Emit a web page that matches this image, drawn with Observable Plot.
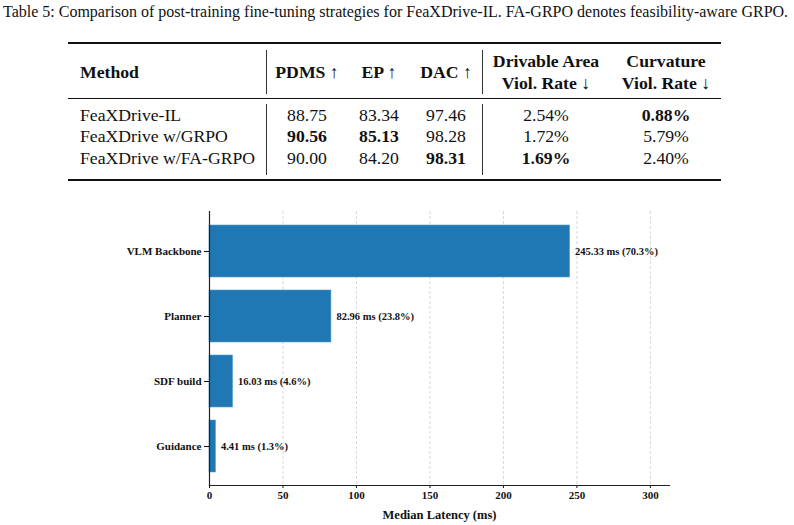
<!DOCTYPE html>
<html>
<head>
<meta charset="utf-8">
<script src="https://cdn.jsdelivr.net/npm/d3@7"></script>
<script src="https://cdn.jsdelivr.net/npm/@observablehq/plot@0.6"></script>
<style>
  html, body { margin: 0; padding: 0; background: #fff; }
  #page { position: relative; width: 794px; height: 525px; overflow: hidden; font-family: "Liberation Serif", "Times New Roman", serif; color: #111; }
  .abs { position: absolute; white-space: nowrap; }
  .cap { font-size: 16px; line-height: 18px; }
  .cell { font-size: 17.7px; line-height: 20px; }
  .hdr { font-size: 17.7px; line-height: 22px; font-weight: bold; text-align: center; }
  .rule { position: absolute; background: #111; }
  .vline { position: absolute; background: #333; width: 1px; }
  #chart { position: absolute; left: 0; top: 195px; }
</style>
</head>
<body>
<div id="page"></div>
<script>
// ---------- Table data ----------
const captionText = "Table 5: Comparison of post-training fine-tuning strategies for FeaXDrive-IL. FA-GRPO denotes feasibility-aware GRPO.";
const methods = ["FeaXDrive-IL", "FeaXDrive w/GRPO", "FeaXDrive w/FA-GRPO"];
const pdms = [88.75, 90.56, 90.00];
const ep = [83.34, 85.13, 84.20];
const dac = [97.46, 98.28, 98.31];
const drivableViol = [2.54, 1.72, 1.69];
const curvatureViol = [0.88, 5.79, 2.40];
const columnHeaders = [["PDMS ↑"], ["EP ↑"], ["DAC ↑"], ["Drivable Area", "Viol. Rate ↓"], ["Curvature", "Viol. Rate ↓"]];

// ---------- Chart data ----------
const components = ["VLM Backbone", "Planner", "SDF build", "Guidance"];
const latencyMs = [245.33, 82.96, 16.03, 4.41];
const sharePct = [70.3, 23.8, 4.6, 1.3];
const xTicks = [0, 50, 100, 150, 200, 250, 300];

const page = document.getElementById("page");
function el(cls, text, style) {
  const d = document.createElement("div");
  d.className = cls;
  if (text != null) d.textContent = text;
  Object.assign(d.style, style);
  page.appendChild(d);
  return d;
}

// caption
el("abs cap", captionText, {left: "3px", top: "3px"});

// rules
el("rule", null, {left: "68px", width: "653px", top: "42px", height: "2px"});
el("rule", null, {left: "68px", width: "653px", top: "97.5px", height: "1.2px"});
el("rule", null, {left: "68px", width: "653px", top: "178.5px", height: "2px"});
// vertical separators
for (const x of [266, 482]) {
  el("vline", null, {left: x + "px", top: "50px", height: "44px"});
  el("vline", null, {left: x + "px", top: "104px", height: "71px"});
}

// header
el("abs hdr", "Method", {left: "80px", top: "61px", textAlign: "left"});
const colCenters = [307, 379, 446, 546, 666];
const colValues = [pdms, ep, dac, drivableViol, curvatureViol];
const colBetter = ["max", "max", "max", "min", "min"];
const colPct = [false, false, false, true, true];
columnHeaders.forEach((lines, i) => {
  const top = lines.length === 1 ? 61 : 50;
  const d = el("abs hdr", null, {left: (colCenters[i] - 80) + "px", width: "160px", top: top + "px"});
  lines.forEach((s, k) => {
    if (k) d.appendChild(document.createElement("br"));
    d.appendChild(document.createTextNode(s));
  });
});

// body
const rowTops = [104.5, 126, 147.5];
methods.forEach((m, r) => {
  el("abs cell", m, {left: "80px", top: rowTops[r] + "px"});
});
colValues.forEach((vals, i) => {
  const best = colBetter[i] === "max" ? d3.max(vals) : d3.min(vals);
  vals.forEach((v, r) => {
    const txt = v.toFixed(2) + (colPct[i] ? "%" : "");
    el("abs cell", txt, {
      left: (colCenters[i] - 80) + "px", width: "160px", textAlign: "center",
      top: rowTops[r] + "px", fontWeight: v === best ? "bold" : "normal"
    });
  });
});

// ---------- Chart ----------
const data = components.map((c, i) => ({component: c, latency: latencyMs[i], share: sharePct[i]}));
const chart = Plot.plot({
  width: 794,
  height: 330,
  marginLeft: 209,
  marginRight: 125,
  marginTop: 16,
  marginBottom: 40,
  style: {fontFamily: "'Liberation Serif', 'Times New Roman', serif", fontSize: "11px", fontWeight: "bold", color: "#111", background: "transparent"},
  x: {domain: [0, 313], label: null},
  y: {domain: components, padding: 0.2, label: null},
  marks: [
    Plot.gridX(xTicks, {stroke: "#cfcfcf", strokeOpacity: 1, strokeDasharray: "3,2", strokeWidth: 0.8}),
    Plot.barX(data, {x: "latency", y: "component", fill: "#1f77b4", stroke: "#5a9fd0", strokeWidth: 0.6}),
    Plot.text(data, {x: "latency", y: "component", text: d => `${d.latency.toFixed(2)} ms (${d.share.toFixed(1)}%)`, textAnchor: "start", dx: 5, fill: "#111", fontSize: 10.5}),
    Plot.axisY({tickSize: 5, tickPadding: 3, label: null, fontSize: 11}),
    Plot.axisX({ticks: xTicks, tickSize: 3, tickPadding: 3, label: null, fontSize: 11}),
    Plot.axisX({ticks: [], tickSize: 0, label: "Median Latency (ms)", labelAnchor: "center", labelArrow: "none", labelOffset: 33, fontSize: 12.5}),
    Plot.frame({anchor: "left", stroke: "#222", strokeWidth: 1.2}),
    Plot.frame({anchor: "bottom", stroke: "#222", strokeWidth: 1.2})
  ]
});
chart.id = "chart";
page.appendChild(chart);
</script>
</body>
</html>
